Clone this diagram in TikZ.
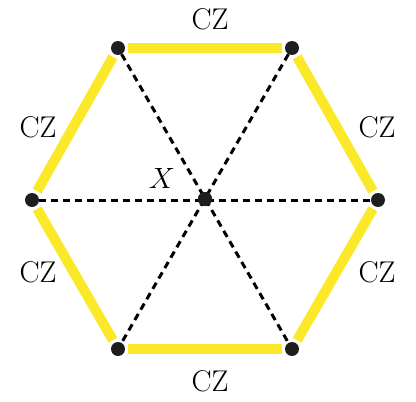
\documentclass[tikz,border=0pt]{standalone}
\definecolor{czyellow}{RGB}{251,232,40}
\definecolor{dotblack}{RGB}{30,30,30}
\tikzset{
  qdot/.style={circle,fill=dotblack,inner sep=0pt,minimum size=14pt},
  czbar/.style={draw=czyellow,line width=10pt,shorten >=3pt,shorten <=3pt},
  dashline/.style={draw=black,line width=3pt,dash pattern=on 7pt off 5pt},
  lbl/.style={font=\fontsize{30}{36}\selectfont,inner sep=0pt},
  mlbl/.style={font=\Huge,scale=1.18,inner sep=0pt}
}
\begin{document}
\begin{tikzpicture}[x=1pt,y=-1pt]
\useasboundingbox (0,0) rectangle (416,402);
\node[qdot] (a) at (32,200) {};
\node[qdot] (b) at (118,48) {};
\node[qdot] (c) at (292,48) {};
\node[qdot] (d) at (378,200) {};
\node[qdot] (e) at (292,349) {};
\node[qdot] (f) at (118,349) {};
\node[qdot] (o) at (205,199) {};
\path[dashline] (a) -- (d);
\path[dashline] (b) -- (e);
\path[dashline] (c) -- (f);
\node[qdot] at (o) {};
\path[czbar] (a) -- (b);
\path[czbar] (b) -- (c);
\path[czbar] (c) -- (d);
\path[czbar] (d) -- (e);
\path[czbar] (e) -- (f);
\path[czbar] (f) -- (a);
\node[lbl] (t1) at (210,19) {CZ};
\node[lbl] (t2) at (38,127) {CZ};
\node[lbl] (t3) at (377,127) {CZ};
\node[lbl] (t4) at (38,272) {CZ};
\node[lbl] (t5) at (377,272) {CZ};
\node[lbl] (t6) at (210,381) {CZ};
\node[mlbl] (x) at (162,178) {$X$};
\end{tikzpicture}
\end{document}
